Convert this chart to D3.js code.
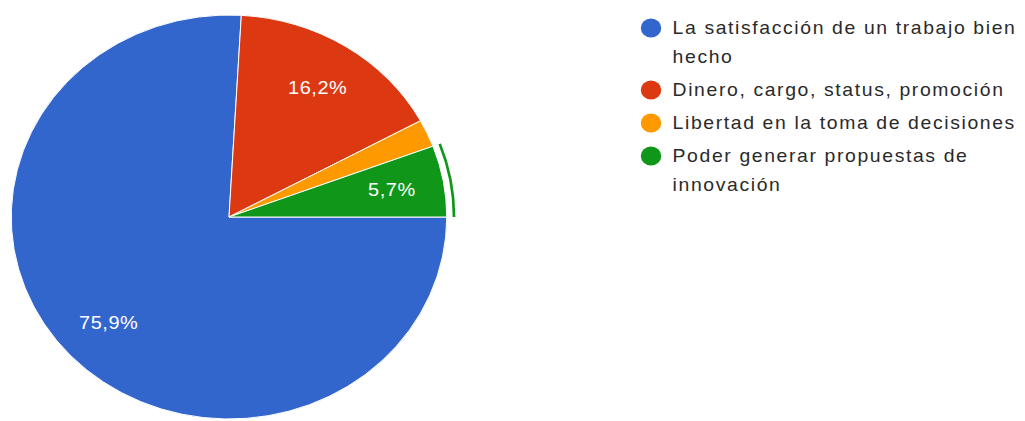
<!DOCTYPE html>
<html>
<head>
<meta charset="utf-8">
<script src="https://cdn.jsdelivr.net/npm/d3@7"></script>
<style>
  html, body { margin: 0; padding: 0; background: #fff; }
  svg { display: block; }
</style>
</head>
<body>
<svg id="chart" width="1025" height="421"></svg>
<script>
// Survey answers and their shares (%)
const categories = [
  "La satisfacción de un trabajo bien hecho",
  "Dinero, cargo, status, promoción",
  "Libertad en la toma de decisiones",
  "Poder generar propuestas de innovación"
];
const values = [75.9, 16.2, 2.2, 5.7];
const colors = ["#3366cc", "#dc3912", "#ff9900", "#109618"];
// Legend text as it wraps in the legend column
const legendLines = [
  ["La satisfacción de un trabajo bien", "hecho"],
  ["Dinero, cargo, status, promoción"],
  ["Libertad en la toma de decisiones"],
  ["Poder generar propuestas de", "innovación"]
];
const highlighted = 3; // slice with the hover ring

const svg = d3.select("#chart");
const sx = 1.078;          // horizontal stretch of the whole drawing
const cx = 229, cy = 217, r = 202;

const data = categories.map((c, i) => ({ name: c, value: values[i], color: colors[i], i }));

const pie = d3.pie()
  .sort(null)
  .value(d => d.value)
  .startAngle(Math.PI / 2)
  .endAngle(Math.PI / 2 + 2 * Math.PI);

const arcs = pie(data);
const arc = d3.arc().innerRadius(0).outerRadius(r);
const labelArc = d3.arc().innerRadius(r * 0.76).outerRadius(r * 0.76);
const ringArc = d3.arc().innerRadius(r + 5.5).outerRadius(r + 8);

const g = svg.append("g")
  .attr("transform", `translate(${cx},${cy}) scale(${sx},1)`);

g.selectAll("path.slice")
  .data(arcs)
  .join("path")
  .attr("class", "slice")
  .attr("d", arc)
  .attr("fill", d => d.data.color)
  .attr("stroke", "#fff")
  .attr("stroke-width", 1)
  .attr("vector-effect", "non-scaling-stroke");

// hover ring around the highlighted slice
g.append("path")
  .attr("d", ringArc(arcs[highlighted]))
  .attr("fill", colors[highlighted]);

const fmt = v => d3.format(".1f")(v).replace(".", ",") + "%";

g.selectAll("text.pct")
  .data(arcs.filter(d => d.data.value >= 5))
  .join("text")
  .attr("class", "pct")
  .attr("transform", d => `translate(${labelArc.centroid(d)})`)
  .attr("text-anchor", "middle")
  .attr("dy", "0.36em")
  .attr("fill", "#fff")
  .attr("font-family", "Liberation Sans, Arial, sans-serif")
  .attr("font-size", 18.5)
  .attr("letter-spacing", 0.5)
  .text(d => fmt(d.data.value));

// Legend
const legend = svg.append("g")
  .attr("transform", `translate(630,0) scale(${sx},1)`);
const lineH = 29, itemGap = 33;
let y = 28;
legendLines.forEach((lines, i) => {
  const item = legend.append("g").attr("transform", `translate(0,${y})`);
  item.append("circle")
    .attr("cx", 19.5)
    .attr("cy", 0)
    .attr("r", 9.5)
    .attr("fill", colors[i]);
  item.selectAll("text")
    .data(lines)
    .join("text")
    .attr("x", 39.5)
    .attr("y", (d, k) => k * lineH)
    .attr("dy", "0.36em")
    .attr("fill", "#2a2a2a")
    .attr("font-family", "Liberation Sans, Arial, sans-serif")
    .attr("font-size", 18)
    .attr("letter-spacing", 1.5)
    .text(d => d);
  y += itemGap + (lines.length - 1) * lineH;
});
</script>
</body>
</html>
